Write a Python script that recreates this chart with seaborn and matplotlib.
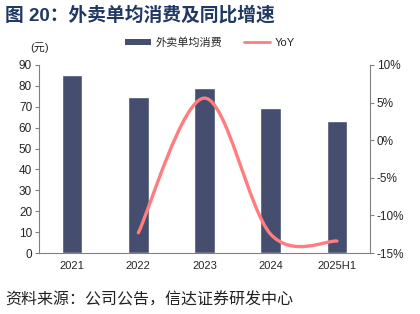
import numpy as np
import pandas as pd
import seaborn as sns
import matplotlib.pyplot as plt
from matplotlib.path import Path
from matplotlib.patches import PathPatch
from matplotlib.lines import Line2D
from matplotlib.patches import Patch

categories = ['2021', '2022', '2023', '2024', '2025H1']
spend = [85.0, 74.6, 78.8, 69.2, 63.0]
yoy_cats = ['2022', '2023', '2024', '2025H1']
yoy = [-12.3, 5.6, -12.5, -13.4]

bar_color = '#454E6E'
line_color = '#FF7C80'
axis_color = '#808080'

sns.set_style('white')
plt.rcParams['font.family'] = ['Liberation Sans', 'Noto Sans CJK SC', 'DejaVu Sans']
plt.rcParams['axes.unicode_minus'] = False

fig = plt.figure(figsize=(4.2, 3.14), dpi=100)
ax = fig.add_axes([0.093, 0.194, 0.788, 0.599])

df = pd.DataFrame({'cat': categories, 'spend': spend})
sns.barplot(data=df, x='cat', y='spend', color=bar_color, width=0.31,
            saturation=1, ax=ax)
ax.set_xlim(-0.5, len(categories) - 0.5)
ax.set_ylim(0, 90)
ax.set_yticks(range(0, 91, 10))
ax.set_xlabel('')
ax.set_ylabel('')

# x ticks between categories
ax.set_xticks(np.arange(-0.5, len(categories), 1.0), minor=True)
ax.tick_params(axis='x', which='major', length=0, labelsize=8, pad=6)
ax.tick_params(axis='x', which='minor', length=4, direction='out', color=axis_color)
ax.tick_params(axis='y', length=3, direction='out', color=axis_color, labelsize=8.5, pad=2)
for s in ['top', 'right']:
    ax.spines[s].set_visible(False)
for s in ['left', 'bottom']:
    ax.spines[s].set_color(axis_color)

# YoY on secondary axis, drawn as a smoothed bezier (Excel style)
ax2 = ax.twinx()
ax2.set_ylim(-15, 10)
ax2.set_yticks(range(-15, 11, 5))
ax2.set_yticklabels([f'{v}%' for v in range(-15, 11, 5)])
ax2.tick_params(axis='y', length=3, direction='out', color=axis_color, labelsize=8.5, pad=2)
for s in ['top', 'left', 'bottom']:
    ax2.spines[s].set_visible(False)
ax2.spines['right'].set_color(axis_color)

xs = [categories.index(c) for c in yoy_cats]
pts = np.column_stack([xs, yoy]).astype(float)
n = len(pts)
verts = [pts[0]]
codes = [Path.MOVETO]
for i in range(n - 1):
    p0 = pts[max(i - 1, 0)]
    p1 = pts[i]
    p2 = pts[i + 1]
    p3 = pts[min(i + 2, n - 1)]
    verts += [p1 + (p2 - p0) / 6, p2 - (p3 - p1) / 6, p2]
    codes += [Path.CURVE4] * 3
ax2.add_patch(PathPatch(Path(verts, codes), fill=False, edgecolor=line_color,
                        lw=2.4, capstyle='round'))

# legend
handles = [Patch(facecolor=bar_color, edgecolor='none'),
           Line2D([0], [0], color=line_color, lw=2)]
fig.legend(handles, ['外卖单均消费', 'YoY'], loc='center', bbox_to_anchor=(0.5, 0.865),
           ncol=2, frameon=False, fontsize=8, handlelength=2.3, handleheight=0.45,
           columnspacing=2.0, handletextpad=0.4)

fig.text(0.095, 0.847, '(元)', fontsize=8, ha='center', va='center')
fig.text(0.012, 0.952, '图 20：外卖单均消费及同比增速', fontsize=13.5, fontweight='bold',
         color='#1F3864', ha='left', va='center')
fig.text(0.012, 0.045, '资料来源：公司公告，信达证券研发中心', fontsize=11.5,
         style='italic', ha='left', va='center', color='#222222')

fig.savefig('out.png', dpi=100)
